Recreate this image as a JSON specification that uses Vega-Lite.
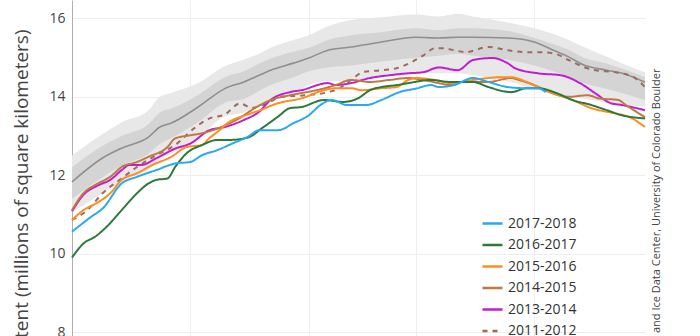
{
  "$schema": "https://vega.github.io/schema/vega-lite/v6.json",
  "width": 573,
  "height": 336,
  "autosize": {"type": "none"},
  "padding": {"left": 72, "top": 0, "right": 55, "bottom": 0},
  "background": "white",
  "config": {
    "view": {"stroke": null},
    "font": "Open Sans",
    "axis": {"labelFont": "Open Sans", "titleFont": "Open Sans"}
  },
  "datasets": {
    "bands": [
      {"day": 0, "p10": 11.05, "p25": 11.4, "median": 11.83, "p75": 12.2, "p90": 12.5},
      {"day": 8, "p10": 11.55, "p25": 11.95, "median": 12.44, "p75": 12.75, "p90": 13.05},
      {"day": 13, "p10": 11.85, "p25": 12.25, "median": 12.69, "p75": 13.0, "p90": 13.35},
      {"day": 20, "p10": 12.15, "p25": 12.55, "median": 12.97, "p75": 13.3, "p90": 13.65},
      {"day": 23, "p10": 12.4, "p25": 12.8, "median": 13.23, "p75": 13.6, "p90": 14.0},
      {"day": 26, "p10": 12.55, "p25": 12.95, "median": 13.33, "p75": 13.7, "p90": 14.1},
      {"day": 33, "p10": 12.95, "p25": 13.35, "median": 13.74, "p75": 14.05, "p90": 14.35},
      {"day": 40, "p10": 13.5, "p25": 13.85, "median": 14.21, "p75": 14.5, "p90": 14.78},
      {"day": 45, "p10": 13.6, "p25": 13.95, "median": 14.38, "p75": 14.65, "p90": 14.95},
      {"day": 49, "p10": 13.8, "p25": 14.15, "median": 14.55, "p75": 14.85, "p90": 15.1},
      {"day": 52, "p10": 13.95, "p25": 14.3, "median": 14.68, "p75": 14.98, "p90": 15.25},
      {"day": 58, "p10": 14.1, "p25": 14.5, "median": 14.86, "p75": 15.15, "p90": 15.45},
      {"day": 62, "p10": 14.3, "p25": 14.65, "median": 14.99, "p75": 15.25, "p90": 15.57},
      {"day": 67, "p10": 14.4, "p25": 14.75, "median": 15.19, "p75": 15.45, "p90": 15.8},
      {"day": 73, "p10": 14.4, "p25": 14.8, "median": 15.27, "p75": 15.57, "p90": 15.96},
      {"day": 81, "p10": 14.5, "p25": 14.9, "median": 15.4, "p75": 15.65, "p90": 16.03},
      {"day": 90, "p10": 14.6, "p25": 15.0, "median": 15.52, "p75": 15.75, "p90": 16.1},
      {"day": 96, "p10": 14.6, "p25": 15.05, "median": 15.5, "p75": 15.7, "p90": 16.05},
      {"day": 101, "p10": 14.6, "p25": 15.1, "median": 15.52, "p75": 15.75, "p90": 16.12},
      {"day": 105, "p10": 14.55, "p25": 15.05, "median": 15.52, "p75": 15.75, "p90": 16.05},
      {"day": 114, "p10": 14.4, "p25": 14.95, "median": 15.5, "p75": 15.68, "p90": 15.9},
      {"day": 121, "p10": 14.2, "p25": 14.8, "median": 15.4, "p75": 15.5, "p90": 15.75},
      {"day": 126, "p10": 14.1, "p25": 14.65, "median": 15.19, "p75": 15.35, "p90": 15.6},
      {"day": 130, "p10": 14.0, "p25": 14.5, "median": 15.02, "p75": 15.2, "p90": 15.45},
      {"day": 134, "p10": 13.95, "p25": 14.35, "median": 14.81, "p75": 15.0, "p90": 15.27},
      {"day": 140, "p10": 13.85, "p25": 14.2, "median": 14.68, "p75": 14.85, "p90": 15.02},
      {"day": 144, "p10": 13.8, "p25": 14.1, "median": 14.6, "p75": 14.72, "p90": 14.85},
      {"day": 150, "p10": 13.75, "p25": 13.92, "median": 14.37, "p75": 14.5, "p90": 14.63}
    ],
    "years": [
      {"season": "2011-2012", "day": 0, "extent": 10.86},
      {"season": "2011-2012", "day": 4, "extent": 11.11},
      {"season": "2011-2012", "day": 8, "extent": 11.54},
      {"season": "2011-2012", "day": 13, "extent": 11.92},
      {"season": "2011-2012", "day": 17, "extent": 12.21},
      {"season": "2011-2012", "day": 22, "extent": 12.51},
      {"season": "2011-2012", "day": 27, "extent": 12.77},
      {"season": "2011-2012", "day": 32, "extent": 13.2},
      {"season": "2011-2012", "day": 36, "extent": 13.45},
      {"season": "2011-2012", "day": 40, "extent": 13.55},
      {"season": "2011-2012", "day": 44, "extent": 13.83},
      {"season": "2011-2012", "day": 47, "extent": 13.72},
      {"season": "2011-2012", "day": 50, "extent": 13.79},
      {"season": "2011-2012", "day": 55, "extent": 14.0},
      {"season": "2011-2012", "day": 61, "extent": 14.04},
      {"season": "2011-2012", "day": 67, "extent": 14.12},
      {"season": "2011-2012", "day": 70, "extent": 14.22},
      {"season": "2011-2012", "day": 74, "extent": 14.5},
      {"season": "2011-2012", "day": 76, "extent": 14.63},
      {"season": "2011-2012", "day": 81, "extent": 14.68},
      {"season": "2011-2012", "day": 85, "extent": 14.73},
      {"season": "2011-2012", "day": 89, "extent": 14.89},
      {"season": "2011-2012", "day": 92, "extent": 15.06},
      {"season": "2011-2012", "day": 95, "extent": 15.24},
      {"season": "2011-2012", "day": 97, "extent": 15.24},
      {"season": "2011-2012", "day": 100, "extent": 15.19},
      {"season": "2011-2012", "day": 103, "extent": 15.14},
      {"season": "2011-2012", "day": 109, "extent": 15.27},
      {"season": "2011-2012", "day": 114, "extent": 15.19},
      {"season": "2011-2012", "day": 119, "extent": 15.14},
      {"season": "2011-2012", "day": 122, "extent": 15.14},
      {"season": "2011-2012", "day": 126, "extent": 15.11},
      {"season": "2011-2012", "day": 130, "extent": 14.94},
      {"season": "2011-2012", "day": 134, "extent": 14.76},
      {"season": "2011-2012", "day": 137, "extent": 14.68},
      {"season": "2011-2012", "day": 142, "extent": 14.63},
      {"season": "2011-2012", "day": 147, "extent": 14.5},
      {"season": "2011-2012", "day": 150, "extent": 14.25},

      {"season": "2013-2014", "day": 0, "extent": 11.08},
      {"season": "2013-2014", "day": 3, "extent": 11.5},
      {"season": "2013-2014", "day": 7, "extent": 11.75},
      {"season": "2013-2014", "day": 10, "extent": 11.88},
      {"season": "2013-2014", "day": 13, "extent": 12.13},
      {"season": "2013-2014", "day": 15, "extent": 12.26},
      {"season": "2013-2014", "day": 18, "extent": 12.26},
      {"season": "2013-2014", "day": 22, "extent": 12.43},
      {"season": "2013-2014", "day": 27, "extent": 12.68},
      {"season": "2013-2014", "day": 31, "extent": 12.81},
      {"season": "2013-2014", "day": 36, "extent": 13.15},
      {"season": "2013-2014", "day": 40, "extent": 13.23},
      {"season": "2013-2014", "day": 45, "extent": 13.41},
      {"season": "2013-2014", "day": 49, "extent": 13.62},
      {"season": "2013-2014", "day": 52, "extent": 13.92},
      {"season": "2013-2014", "day": 57, "extent": 14.12},
      {"season": "2013-2014", "day": 60, "extent": 14.17},
      {"season": "2013-2014", "day": 67, "extent": 14.35},
      {"season": "2013-2014", "day": 69, "extent": 14.3},
      {"season": "2013-2014", "day": 73, "extent": 14.35},
      {"season": "2013-2014", "day": 78, "extent": 14.48},
      {"season": "2013-2014", "day": 83, "extent": 14.55},
      {"season": "2013-2014", "day": 88, "extent": 14.6},
      {"season": "2013-2014", "day": 92, "extent": 14.63},
      {"season": "2013-2014", "day": 96, "extent": 14.75},
      {"season": "2013-2014", "day": 101, "extent": 14.68},
      {"season": "2013-2014", "day": 105, "extent": 14.94},
      {"season": "2013-2014", "day": 110, "extent": 14.99},
      {"season": "2013-2014", "day": 114, "extent": 14.86},
      {"season": "2013-2014", "day": 116, "extent": 14.73},
      {"season": "2013-2014", "day": 122, "extent": 14.6},
      {"season": "2013-2014", "day": 128, "extent": 14.55},
      {"season": "2013-2014", "day": 133, "extent": 14.35},
      {"season": "2013-2014", "day": 137, "extent": 14.09},
      {"season": "2013-2014", "day": 141, "extent": 13.84},
      {"season": "2013-2014", "day": 144, "extent": 13.79},
      {"season": "2013-2014", "day": 150, "extent": 13.66},

      {"season": "2014-2015", "day": 0, "extent": 11.11},
      {"season": "2014-2015", "day": 3, "extent": 11.54},
      {"season": "2014-2015", "day": 6, "extent": 11.75},
      {"season": "2014-2015", "day": 10, "extent": 11.96},
      {"season": "2014-2015", "day": 13, "extent": 12.21},
      {"season": "2014-2015", "day": 17, "extent": 12.34},
      {"season": "2014-2015", "day": 20, "extent": 12.47},
      {"season": "2014-2015", "day": 25, "extent": 12.72},
      {"season": "2014-2015", "day": 27, "extent": 12.94},
      {"season": "2014-2015", "day": 31, "extent": 13.02},
      {"season": "2014-2015", "day": 34, "extent": 13.07},
      {"season": "2014-2015", "day": 38, "extent": 13.19},
      {"season": "2014-2015", "day": 43, "extent": 13.41},
      {"season": "2014-2015", "day": 48, "extent": 13.72},
      {"season": "2014-2015", "day": 52, "extent": 13.92},
      {"season": "2014-2015", "day": 57, "extent": 14.04},
      {"season": "2014-2015", "day": 64, "extent": 14.17},
      {"season": "2014-2015", "day": 69, "extent": 14.3},
      {"season": "2014-2015", "day": 73, "extent": 14.43},
      {"season": "2014-2015", "day": 78, "extent": 14.38},
      {"season": "2014-2015", "day": 83, "extent": 14.43},
      {"season": "2014-2015", "day": 88, "extent": 14.48},
      {"season": "2014-2015", "day": 92, "extent": 14.43},
      {"season": "2014-2015", "day": 96, "extent": 14.35},
      {"season": "2014-2015", "day": 99, "extent": 14.3},
      {"season": "2014-2015", "day": 101, "extent": 14.38},
      {"season": "2014-2015", "day": 105, "extent": 14.38},
      {"season": "2014-2015", "day": 109, "extent": 14.38},
      {"season": "2014-2015", "day": 115, "extent": 14.48},
      {"season": "2014-2015", "day": 117, "extent": 14.43},
      {"season": "2014-2015", "day": 121, "extent": 14.3},
      {"season": "2014-2015", "day": 125, "extent": 14.12},
      {"season": "2014-2015", "day": 130, "extent": 14.0},
      {"season": "2014-2015", "day": 135, "extent": 14.04},
      {"season": "2014-2015", "day": 138, "extent": 13.96},
      {"season": "2014-2015", "day": 143, "extent": 13.92},
      {"season": "2014-2015", "day": 145, "extent": 13.79},
      {"season": "2014-2015", "day": 150, "extent": 13.48},

      {"season": "2015-2016", "day": 0, "extent": 10.86},
      {"season": "2015-2016", "day": 3, "extent": 11.11},
      {"season": "2015-2016", "day": 7, "extent": 11.32},
      {"season": "2015-2016", "day": 10, "extent": 11.54},
      {"season": "2015-2016", "day": 13, "extent": 11.88},
      {"season": "2015-2016", "day": 17, "extent": 12.05},
      {"season": "2015-2016", "day": 21, "extent": 12.26},
      {"season": "2015-2016", "day": 26, "extent": 12.47},
      {"season": "2015-2016", "day": 30, "extent": 12.72},
      {"season": "2015-2016", "day": 34, "extent": 12.77},
      {"season": "2015-2016", "day": 36, "extent": 12.95},
      {"season": "2015-2016", "day": 38, "extent": 13.1},
      {"season": "2015-2016", "day": 41, "extent": 13.35},
      {"season": "2015-2016", "day": 46, "extent": 13.55},
      {"season": "2015-2016", "day": 49, "extent": 13.65},
      {"season": "2015-2016", "day": 54, "extent": 13.84},
      {"season": "2015-2016", "day": 60, "extent": 13.96},
      {"season": "2015-2016", "day": 66, "extent": 14.17},
      {"season": "2015-2016", "day": 69, "extent": 14.22},
      {"season": "2015-2016", "day": 73, "extent": 14.22},
      {"season": "2015-2016", "day": 76, "extent": 14.17},
      {"season": "2015-2016", "day": 81, "extent": 14.22},
      {"season": "2015-2016", "day": 85, "extent": 14.25},
      {"season": "2015-2016", "day": 88, "extent": 14.43},
      {"season": "2015-2016", "day": 90, "extent": 14.48},
      {"season": "2015-2016", "day": 95, "extent": 14.43},
      {"season": "2015-2016", "day": 99, "extent": 14.35},
      {"season": "2015-2016", "day": 102, "extent": 14.38},
      {"season": "2015-2016", "day": 105, "extent": 14.43},
      {"season": "2015-2016", "day": 109, "extent": 14.48},
      {"season": "2015-2016", "day": 112, "extent": 14.5},
      {"season": "2015-2016", "day": 115, "extent": 14.5},
      {"season": "2015-2016", "day": 119, "extent": 14.38},
      {"season": "2015-2016", "day": 122, "extent": 14.25},
      {"season": "2015-2016", "day": 126, "extent": 14.09},
      {"season": "2015-2016", "day": 131, "extent": 13.92},
      {"season": "2015-2016", "day": 136, "extent": 13.71},
      {"season": "2015-2016", "day": 142, "extent": 13.58},
      {"season": "2015-2016", "day": 146, "extent": 13.48},
      {"season": "2015-2016", "day": 150, "extent": 13.23},

      {"season": "2016-2017", "day": 0, "extent": 9.9},
      {"season": "2016-2017", "day": 3, "extent": 10.26},
      {"season": "2016-2017", "day": 6, "extent": 10.43},
      {"season": "2016-2017", "day": 9, "extent": 10.68},
      {"season": "2016-2017", "day": 13, "extent": 11.11},
      {"season": "2016-2017", "day": 17, "extent": 11.54},
      {"season": "2016-2017", "day": 20, "extent": 11.79},
      {"season": "2016-2017", "day": 22, "extent": 11.88},
      {"season": "2016-2017", "day": 25, "extent": 11.92},
      {"season": "2016-2017", "day": 27, "extent": 12.21},
      {"season": "2016-2017", "day": 30, "extent": 12.56},
      {"season": "2016-2017", "day": 34, "extent": 12.77},
      {"season": "2016-2017", "day": 38, "extent": 12.9},
      {"season": "2016-2017", "day": 41, "extent": 12.9},
      {"season": "2016-2017", "day": 46, "extent": 12.96},
      {"season": "2016-2017", "day": 50, "extent": 13.22},
      {"season": "2016-2017", "day": 54, "extent": 13.5},
      {"season": "2016-2017", "day": 57, "extent": 13.71},
      {"season": "2016-2017", "day": 60, "extent": 13.74},
      {"season": "2016-2017", "day": 66, "extent": 13.92},
      {"season": "2016-2017", "day": 71, "extent": 13.87},
      {"season": "2016-2017", "day": 75, "extent": 13.97},
      {"season": "2016-2017", "day": 78, "extent": 14.17},
      {"season": "2016-2017", "day": 81, "extent": 14.25},
      {"season": "2016-2017", "day": 85, "extent": 14.3},
      {"season": "2016-2017", "day": 88, "extent": 14.35},
      {"season": "2016-2017", "day": 94, "extent": 14.43},
      {"season": "2016-2017", "day": 99, "extent": 14.38},
      {"season": "2016-2017", "day": 105, "extent": 14.38},
      {"season": "2016-2017", "day": 109, "extent": 14.25},
      {"season": "2016-2017", "day": 115, "extent": 14.12},
      {"season": "2016-2017", "day": 119, "extent": 14.22},
      {"season": "2016-2017", "day": 122, "extent": 14.22},
      {"season": "2016-2017", "day": 127, "extent": 14.09},
      {"season": "2016-2017", "day": 131, "extent": 13.92},
      {"season": "2016-2017", "day": 136, "extent": 13.79},
      {"season": "2016-2017", "day": 140, "extent": 13.66},
      {"season": "2016-2017", "day": 144, "extent": 13.53},
      {"season": "2016-2017", "day": 150, "extent": 13.45},

      {"season": "2017-2018", "day": 0, "extent": 10.56},
      {"season": "2017-2018", "day": 5, "extent": 10.94},
      {"season": "2017-2018", "day": 8, "extent": 11.15},
      {"season": "2017-2018", "day": 13, "extent": 11.79},
      {"season": "2017-2018", "day": 17, "extent": 11.96},
      {"season": "2017-2018", "day": 22, "extent": 12.13},
      {"season": "2017-2018", "day": 27, "extent": 12.3},
      {"season": "2017-2018", "day": 31, "extent": 12.34},
      {"season": "2017-2018", "day": 34, "extent": 12.51},
      {"season": "2017-2018", "day": 38, "extent": 12.64},
      {"season": "2017-2018", "day": 42, "extent": 12.81},
      {"season": "2017-2018", "day": 46, "extent": 12.98},
      {"season": "2017-2018", "day": 49, "extent": 13.15},
      {"season": "2017-2018", "day": 54, "extent": 13.15},
      {"season": "2017-2018", "day": 58, "extent": 13.33},
      {"season": "2017-2018", "day": 62, "extent": 13.53},
      {"season": "2017-2018", "day": 65, "extent": 13.79},
      {"season": "2017-2018", "day": 68, "extent": 13.92},
      {"season": "2017-2018", "day": 72, "extent": 13.79},
      {"season": "2017-2018", "day": 77, "extent": 13.79},
      {"season": "2017-2018", "day": 81, "extent": 13.92},
      {"season": "2017-2018", "day": 86, "extent": 14.13},
      {"season": "2017-2018", "day": 90, "extent": 14.21},
      {"season": "2017-2018", "day": 94, "extent": 14.3},
      {"season": "2017-2018", "day": 96, "extent": 14.25},
      {"season": "2017-2018", "day": 100, "extent": 14.3},
      {"season": "2017-2018", "day": 105, "extent": 14.48},
      {"season": "2017-2018", "day": 109, "extent": 14.38},
      {"season": "2017-2018", "day": 114, "extent": 14.25},
      {"season": "2017-2018", "day": 119, "extent": 14.22},
      {"season": "2017-2018", "day": 122, "extent": 14.22},
      {"season": "2017-2018", "day": 124, "extent": 14.12}
    ]
  },
  "layer": [
    {
      "data": {"name": "bands"},
      "mark": {"type": "area", "color": "#e8e8e8", "interpolate": "monotone"},
      "encoding": {
        "x": {
          "field": "day", "type": "quantitative",
          "scale": {"domain": [0, 150], "nice": false, "zero": false},
          "axis": {"values": [31, 62, 90, 121], "labels": false, "ticks": false, "domain": false, "grid": true, "gridColor": "#eeeeee", "title": null}
        },
        "y": {
          "field": "p10", "type": "quantitative",
          "scale": {"domain": [7.9, 16.47], "nice": false, "zero": false},
          "axis": {
            "values": [8, 10, 12, 14, 16],
            "grid": true, "gridColor": "#eeeeee",
            "ticks": false, "domain": true, "domainColor": "#b0b0b0",
            "labelFontSize": 14, "labelColor": "#444444", "labelPadding": 7, "labelFlush": false,
            "title": "Extent (millions of square kilometers)",
            "titleFontSize": 19, "titleFontWeight": "normal", "titleColor": "#444444",
            "titleAngle": -90, "titleAlign": "right", "titleBaseline": "middle",
            "titleX": -51, "titleY": 29
          }
        },
        "y2": {"field": "p90"}
      }
    },
    {
      "data": {"name": "bands"},
      "mark": {"type": "area", "color": "#d4d4d4", "interpolate": "monotone"},
      "encoding": {
        "x": {"field": "day", "type": "quantitative"},
        "y": {"field": "p25", "type": "quantitative", "axis": null},
        "y2": {"field": "p75"}
      }
    },
    {
      "data": {"name": "bands"},
      "mark": {"type": "line", "color": "#8f8f8f", "strokeWidth": 1.6, "interpolate": "monotone"},
      "encoding": {
        "x": {"field": "day", "type": "quantitative"},
        "y": {
          "field": "median", "type": "quantitative",
          "axis": {
            "orient": "right", "labels": false, "ticks": false, "domain": false, "grid": false,
            "title": "National Snow and Ice Data Center, University of Colorado Boulder",
            "titleFontSize": 11, "titleFontWeight": "normal", "titleColor": "#444444",
            "titleAngle": -90, "titleAlign": "right", "titleBaseline": "middle",
            "titleX": 11, "titleY": 68
          }
        }
      }
    },
    {
      "data": {"name": "years"},
      "mark": {"type": "line", "strokeWidth": 2, "interpolate": "monotone"},
      "encoding": {
        "x": {"field": "day", "type": "quantitative"},
        "y": {"field": "extent", "type": "quantitative", "axis": null},
        "color": {
          "field": "season", "type": "nominal",
          "scale": {
            "domain": ["2017-2018", "2016-2017", "2015-2016", "2014-2015", "2013-2014", "2011-2012"],
            "range": ["#2aa8f2", "#2b7a3b", "#ff8c1f", "#bf7842", "#c21ccf", "#a0695e"]
          },
          "legend": {
            "title": null, "orient": "none", "legendX": 409, "legendY": 212,
            "padding": 0, "symbolType": "stroke", "symbolSize": 400, "symbolStrokeWidth": 2.5,
            "labelFont": "Open Sans", "labelFontSize": 14, "labelColor": "#333333",
            "labelOffset": 4, "rowPadding": 2.5
          }
        },
        "strokeDash": {
          "field": "season", "type": "nominal",
          "scale": {
            "domain": ["2017-2018", "2016-2017", "2015-2016", "2014-2015", "2013-2014", "2011-2012"],
            "range": [[1, 0], [1, 0], [1, 0], [1, 0], [1, 0], [5, 5]]
          },
          "legend": {
            "title": null, "orient": "none", "legendX": 409, "legendY": 212,
            "padding": 0, "symbolType": "stroke", "symbolSize": 400, "symbolStrokeWidth": 2.5,
            "labelFont": "Open Sans", "labelFontSize": 14, "labelColor": "#333333",
            "labelOffset": 4, "rowPadding": 2.5
          }
        }
      }
    }
  ],
  "resolve": {"axis": {"y": "independent"}}
}
